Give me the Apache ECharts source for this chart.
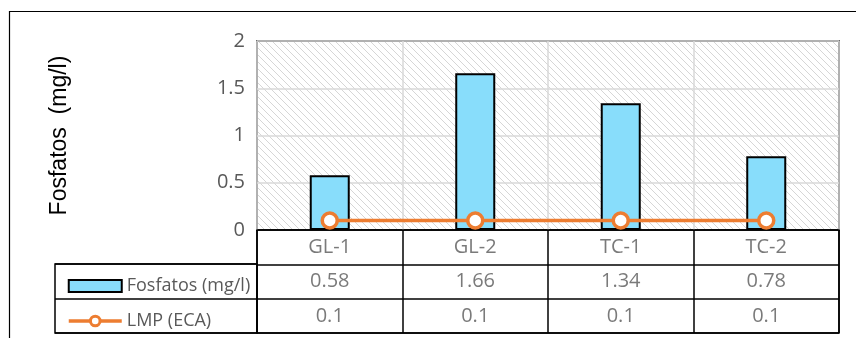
<!DOCTYPE html>
<html>
<head>
<meta charset="utf-8">
<script src="https://cdn.jsdelivr.net/npm/echarts@6/dist/echarts.min.js"></script>
<style>
  html, body { margin: 0; padding: 0; background: #fff; }
  #chart { width: 856px; height: 338px; }
</style>
</head>
<body>
<div id="chart"></div>
<script>
// Sampling points and measured values
const categories = ['GL-1', 'GL-2', 'TC-1', 'TC-2'];
const fosfatos = [0.58, 1.66, 1.34, 0.78];
const lmp = [0.1, 0.1, 0.1, 0.1];
const yTicks = { min: 0, max: 2, interval: 0.5 };
const seriesNames = ['Fosfatos (mg/l)', 'LMP (ECA)'];
const yAxisTitle = 'Fosfatos  (mg/l)';

const textFont = 'Open Sans';
const textGray = '#595959';
const orange = '#ED7D31';

// Diagonal hatch used as the plot background
function hatchPattern() {
  const s = 7;
  const c = document.createElement('canvas');
  c.width = s; c.height = s;
  const g = c.getContext('2d');
  g.fillStyle = '#ffffff';
  g.fillRect(0, 0, s, s);
  g.strokeStyle = '#d6d6d6';
  g.lineWidth = 1;
  g.beginPath();
  g.moveTo(-1, -1); g.lineTo(s + 1, s + 1);
  g.moveTo(-1, s - 1); g.lineTo(1, s + 1);
  g.moveTo(s - 1, -1); g.lineTo(s + 1, 1);
  g.stroke();
  return { image: c, repeat: 'repeat' };
}

// Data-table cells: row 0 = categories, row 1 = bars, row 2 = limit line
const tableCells = [];
categories.forEach((c, i) => {
  tableCells.push({ value: [i, 0], name: c });
  tableCells.push({ value: [i, 1], name: String(fosfatos[i]) });
  tableCells.push({ value: [i, 2], name: String(lmp[i]) });
});

const chart = echarts.init(document.getElementById('chart'), null, { renderer: 'canvas' });

chart.setOption({
  animation: false,
  backgroundColor: '#fff',
  graphic: [{
    type: 'rect',
    z: -10,
    shape: { x: 9.5, y: 11.5, width: 900, height: 400 },
    style: { fill: 'none', stroke: '#000', lineWidth: 1.2 }
  }],
  grid: [
    { left: 257, right: 17, top: 41, bottom: 108, show: true,
      backgroundColor: hatchPattern(), borderColor: '#000', borderWidth: 1.5 },
    { left: 257, right: 17, top: 230, height: 103, show: true,
      backgroundColor: 'transparent', borderColor: '#000', borderWidth: 1.5 },
    { left: 55, width: 202, top: 264, height: 69, show: true,
      backgroundColor: 'transparent', borderColor: '#000', borderWidth: 1.5 }
  ],
  legend: {
    orient: 'vertical',
    left: 62,
    top: 272,
    itemWidth: 53,
    itemHeight: 12,
    itemGap: 17,
    lineStyle: { width: 3.5 },
    textStyle: { fontFamily: textFont, fontSize: 18, color: textGray, lineHeight: 18 },
    data: [
      { name: seriesNames[0], icon: 'rect',
        itemStyle: { color: '#88DDFB', borderColor: '#000', borderWidth: 2 } },
      { name: seriesNames[1],
        lineStyle: { color: orange, width: 3.5 },
        itemStyle: { color: '#fff', borderColor: orange, borderWidth: 3 } }
    ]
  },
  xAxis: [
    { type: 'category', gridIndex: 0, data: categories,
      axisLabel: { show: false }, axisTick: { show: false },
      axisLine: { show: true, lineStyle: { color: '#000', width: 1.5 } },
      splitLine: { show: true, lineStyle: { color: '#d9d9d9', width: 1.5 } } },
    { type: 'category', gridIndex: 1, data: categories,
      axisLabel: { show: false }, axisTick: { show: false }, axisLine: { show: false },
      splitLine: { show: true, lineStyle: { color: '#000', width: 1.5 } } },
    { type: 'value', gridIndex: 2, show: false }
  ],
  yAxis: [
    { type: 'value', gridIndex: 0, min: yTicks.min, max: yTicks.max, interval: yTicks.interval,
      name: yAxisTitle, nameLocation: 'middle', nameGap: 186,
      nameTextStyle: { fontFamily: 'Liberation Sans', fontSize: 23, color: '#000' },
      axisLine: { show: false }, axisTick: { show: false },
      axisLabel: { fontFamily: textFont, fontSize: 20, color: textGray, margin: 12 },
      splitLine: { show: true, lineStyle: { color: '#d9d9d9', width: 1.5 } } },
    { type: 'category', gridIndex: 1, inverse: true, data: ['c', 'f', 'l'],
      axisLabel: { show: false }, axisTick: { show: false }, axisLine: { show: false },
      splitLine: { show: true, lineStyle: { color: '#000', width: 1.5 } } },
    { type: 'category', gridIndex: 2, inverse: true, data: ['f', 'l'],
      axisLabel: { show: false }, axisTick: { show: false }, axisLine: { show: false },
      splitLine: { show: true, lineStyle: { color: '#000', width: 1.5 } } }
  ],
  series: [
    { name: seriesNames[0], type: 'bar', xAxisIndex: 0, yAxisIndex: 0,
      data: fosfatos, barWidth: '27.5%',
      itemStyle: { color: '#88DDFB', borderColor: '#000', borderWidth: 2 } },
    { name: seriesNames[1], type: 'line', xAxisIndex: 0, yAxisIndex: 0,
      data: lmp, symbol: 'circle', symbolSize: 15, z: 5,
      lineStyle: { color: orange, width: 3.5 },
      itemStyle: { color: '#fff', borderColor: orange, borderWidth: 3.5 } },
    { name: 'table', type: 'scatter', xAxisIndex: 1, yAxisIndex: 1,
      data: tableCells, symbolSize: 0, silent: true,
      label: { show: true, position: 'inside', formatter: '{b}',
        fontFamily: textFont, fontSize: 20, color: textGray } }
  ]
});
</script>
</body>
</html>
